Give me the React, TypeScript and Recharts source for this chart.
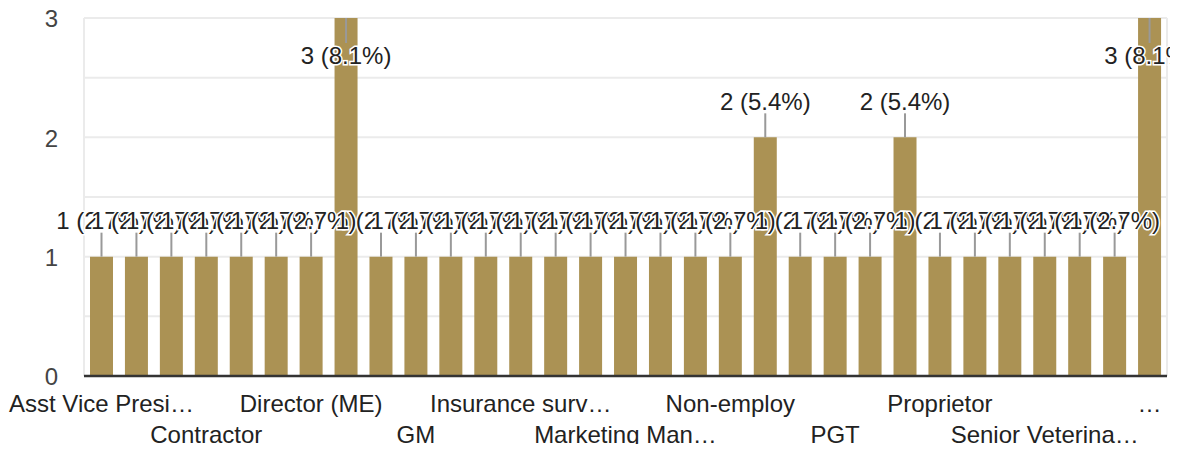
import React from "react";
import { BarChart, Bar, XAxis, YAxis, CartesianGrid, LabelList } from "recharts";

const categories = [
  "Asst Vice President",
  "Banker",
  "Business",
  "Contractor",
  "Customer Support",
  "Designer",
  "Director (ME)",
  "Engineer",
  "Entrepreneur",
  "GM",
  "Govt Employee",
  "Homemaker",
  "Insurance surveyor",
  "Lawyer",
  "Manager",
  "Marketing Manager",
  "Medical Officer",
  "Nil",
  "Non-employ",
  "Officer",
  "Own business",
  "PGT",
  "Pharmacist",
  "Private job",
  "Proprietor",
  "Retired",
  "Self employed",
  "Senior Veterinary Officer",
  "Software Engineer",
  "Student",
  "Working as a professional in the private sector",
];

const counts = [1, 1, 1, 1, 1, 1, 1, 3, 1, 1, 1, 1, 1, 1, 1, 1, 1, 1, 1, 2, 1, 1, 1, 2, 1, 1, 1, 1, 1, 1, 3];

// labels as displayed (every third category, truncated like the reference)
const shownTickLabels: Record<number, string> = {
  0: "Asst Vice Presi…",
  3: "Contractor",
  6: "Director (ME)",
  9: "GM",
  12: "Insurance surv…",
  15: "Marketing Man…",
  18: "Non-employ",
  21: "PGT",
  24: "Proprietor",
  27: "Senior Veterina…",
  30: "…",
};

const yTicks = [0, 0.5, 1, 1.5, 2, 2.5, 3];

const total = counts.reduce((a, b) => a + b, 0);
const data = categories.map((name, i) => ({ name, count: counts[i] }));
const maxVal = 3;

const FONT = "'Liberation Sans', Arial, Helvetica, sans-serif";

const XTick = (props: any) => {
  const { x, y, index } = props;
  const label = shownTickLabels[index];
  if (label === undefined) return <g />;
  const row = (index / 3) % 2;
  const cy = y + (row === 0 ? 28 : 59);
  return (
    <text x={x} y={cy} dy="0.35em" textAnchor="middle" fontSize={24} fontFamily={FONT} fill="#222">
      {label}
    </text>
  );
};

const YTick = (props: any) => {
  const { x, y, payload } = props;
  if (!Number.isInteger(payload.value)) return <g />;
  return (
    <text x={x} y={y + 1} dy="0.35em" textAnchor="end" fontSize={24} fontFamily={FONT} fill="#444">
      {payload.value}
    </text>
  );
};

const Annotation = (props: any) => {
  const { x, y, width, value } = props;
  const cx = x + width / 2;
  const atMax = value >= maxVal;
  const stemEnd = atMax ? y + 25 : y - 24;
  const textY = atMax ? y + 38 : y - 36;
  const pct = ((value / total) * 100).toFixed(1);
  return (
    <g>
      <line x1={cx} x2={cx} y1={y} y2={stemEnd} stroke="#999" strokeWidth={2} />
      <text
        x={cx}
        y={textY}
        dy="0.35em"
        textAnchor="middle"
        fontSize={24}
        fontFamily={FONT}
        fill="#222"
        stroke="#fff"
        strokeWidth={3}
        paintOrder="stroke"
      >
        {`${value} (${pct}%)`}
      </text>
    </g>
  );
};

export default function App() {
  return (
    <div style={{ margin: -8 }}>
      <BarChart width={1170} height={452} data={data} margin={{ top: 18, right: 3, bottom: 0, left: 0 }}>
        <CartesianGrid
          stroke="#ebebeb"
          strokeWidth={2}
          verticalCoordinatesGenerator={({ offset }: any) => [offset.left, offset.left + offset.width]}
        />
        <XAxis
          dataKey="name"
          interval={0}
          height={76}
          tickLine={false}
          tickSize={0}
          tickMargin={0}
          axisLine={{ stroke: "#333", strokeWidth: 2.5 }}
          tick={<XTick />}
        />
        <YAxis
          domain={[0, 3]}
          ticks={yTicks}
          width={84}
          axisLine={false}
          tickLine={false}
          tickSize={0}
          tickMargin={26}
          tick={<YTick />}
          interval={0}
        />
        <Bar dataKey="count" fill="#ab9254" barSize={23} isAnimationActive={false}>
          <LabelList dataKey="count" content={<Annotation />} />
        </Bar>
      </BarChart>
    </div>
  );
}
